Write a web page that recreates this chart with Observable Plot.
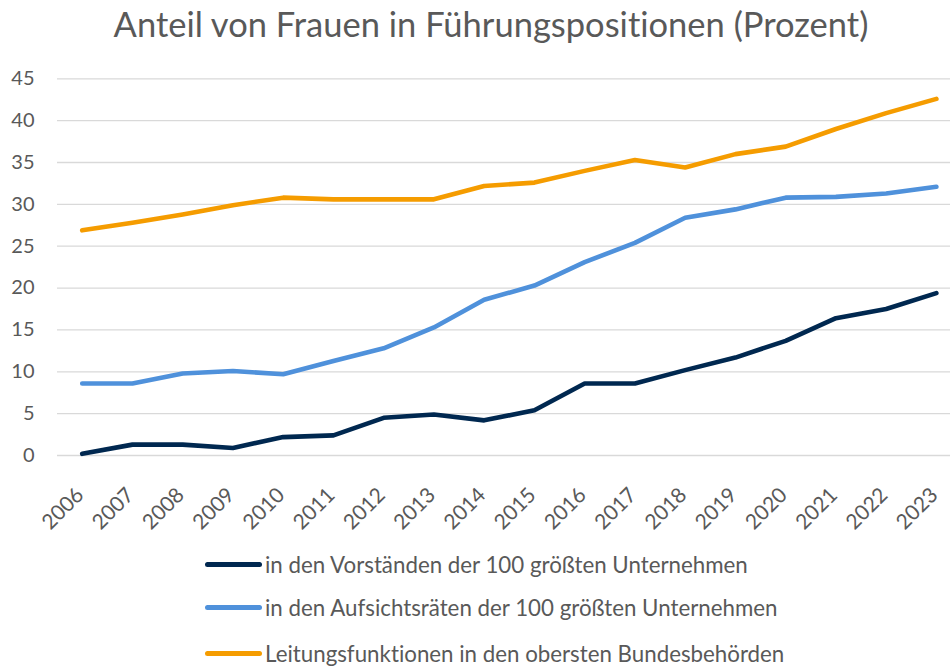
<!DOCTYPE html>
<html>
<head>
<meta charset="utf-8">
<script src="https://cdn.jsdelivr.net/npm/d3@7"></script>
<script src="https://cdn.jsdelivr.net/npm/@observablehq/plot@0.6"></script>
<style>
  html, body { margin: 0; padding: 0; background: #fff; }
  body { width: 950px; height: 668px; overflow: hidden; font-family: Lato, "Open Sans", sans-serif; color: #595959; font-variant-ligatures: none; font-feature-settings: "liga" 0, "dlig" 0; }
  #title { height: 60px; text-align: center; font-size: 34.5px; line-height: 48px; padding-left: 32px; box-sizing: border-box; white-space: nowrap; }
  #chart svg { display: block; font-variant-ligatures: none; }
  #legend { position: relative; }
  .row { position: absolute; left: 205px; display: flex; align-items: center; font-size: 22.3px; white-space: nowrap; }
  .sw { width: 57px; height: 5px; border-radius: 3px; margin-right: 3px; }
</style>
</head>
<body>
<div id="title">Anteil von Frauen in Führungspositionen (Prozent)</div>
<div id="chart"></div>
<div id="legend"></div>
<script>
const years = [2006,2007,2008,2009,2010,2011,2012,2013,2014,2015,2016,2017,2018,2019,2020,2021,2022,2023];
const vorstaende = [0.2,1.3,1.3,0.9,2.2,2.4,4.5,4.9,4.2,5.4,8.6,8.6,10.2,11.7,13.7,16.4,17.5,19.4];
const aufsichtsraete = [8.6,8.6,9.8,10.1,9.7,11.3,12.8,15.3,18.6,20.3,23.1,25.4,28.4,29.4,30.8,30.9,31.3,32.1];
const bundesbehoerden = [26.9,27.8,28.8,29.9,30.8,30.6,30.6,30.6,32.2,32.6,34.0,35.3,34.4,36.0,36.9,39.0,40.9,42.6];
const seriesNames = [
  "in den Vorständen der 100 größten Unternehmen",
  "in den Aufsichtsräten der 100 größten Unternehmen",
  "Leitungsfunktionen in den obersten Bundesbehörden"
];
const seriesColors = ["#002850", "#4f91db", "#f59c00"];
const yTicks = [0,5,10,15,20,25,30,35,40,45];

const allSeries = [vorstaende, aufsichtsraete, bundesbehoerden];
const rows = allSeries.flatMap((vals, i) => vals.map((v, j) => ({year: years[j], value: v, series: seriesNames[i]})));

const plot = Plot.plot({
  width: 950,
  height: 480,
  marginLeft: 57,
  marginRight: 0,
  marginTop: 18.3,
  marginBottom: 85,
  style: {fontFamily: "Lato, 'Open Sans', sans-serif", color: "#595959", background: "#fff"},
  x: {type: "linear", domain: [2006, 2023], range: [81.7, 935.9]},
  y: {domain: [0, 45]},
  color: {domain: seriesNames, range: seriesColors},
  marks: [
    Plot.gridY(yTicks, {stroke: "#d9d9d9", strokeOpacity: 1, strokeWidth: 1.3}),
    Plot.axisY({ticks: yTicks, tickSize: 0, tickPadding: 23, fontSize: 20, label: null, fill: "#595959"}),
    Plot.axisX({ticks: years, tickFormat: d => String(d), tickRotate: -45, tickSize: 0, tickPadding: 8, dy: 28, dx: -2, fontSize: 21, label: null, fill: "#595959"}),
    Plot.line(rows, {x: "year", y: "value", z: "series", stroke: "series", strokeWidth: 4.6, strokeLinecap: "round", strokeLinejoin: "round"})
  ]
});
document.getElementById("chart").appendChild(plot);

const legend = document.getElementById("legend");
const rowTops = [11, 54, 100];
seriesNames.forEach((name, i) => {
  const r = document.createElement("div");
  r.className = "row";
  r.style.top = rowTops[i] + "px";
  const sw = document.createElement("div");
  sw.className = "sw";
  sw.style.background = seriesColors[i];
  const t = document.createElement("span");
  t.textContent = name;
  r.appendChild(sw);
  r.appendChild(t);
  legend.appendChild(r);
});
</script>
</body>
</html>
